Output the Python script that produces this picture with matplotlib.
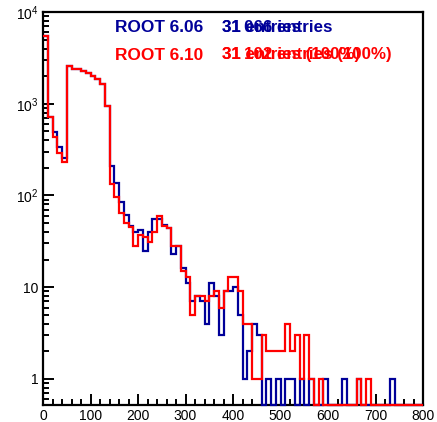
import numpy as np
import matplotlib
matplotlib.use("Agg")
import matplotlib.pyplot as plt

# ---- data ----
bin_edges = np.arange(0, 810, 10)
root606 = [5470, 717, 490, 340, 255, 2580, 2420, 2400, 2300, 2150,
           2000, 1850, 1650, 950, 210, 138, 84, 62, 46, 40,
           42, 25, 40, 55, 55, 48, 44, 23, 28, 16,
           11, 7, 8, 7, 4, 11, 8, 3, 9, 9,
           10, 5, 1, 2, 4, 3, 0, 1, 0, 1,
           0, 1, 1, 0, 1, 0, 1, 0, 0, 1,
           0, 0, 0, 1, 0, 0, 1, 0, 0, 0,
           0, 0, 0, 1, 0, 0, 0, 0, 0, 0]
root610 = [5470, 717, 430, 290, 232, 2580, 2400, 2390, 2300, 2150,
           2000, 1850, 1650, 950, 132, 97, 65, 50, 45, 28,
           37, 35, 31, 40, 60, 47, 44, 28, 28, 15,
           13, 5, 8, 8, 7, 8, 9, 6, 9, 13,
           13, 9, 4, 4, 1, 1, 3, 2, 2, 2,
           2, 4, 2, 3, 1, 3, 1, 0, 1, 0,
           0, 0, 0, 0, 0, 0, 1, 0, 1, 0,
           0, 0, 0, 0, 0, 0, 0, 0, 0, 0]
labels = ["ROOT 6.06", "ROOT 6.10"]
entries_short = ["31 entries", "31 entries (100%)"]
entries_long = ["31\u2009066 entries", "31\u2009102 entries (100%)"]
xticks = [0, 100, 200, 300, 400, 500, 600, 700, 800]
yticks = [1, 10, 100, 1000, 10000]
ytick_labels = ["1", "10", r"$\mathregular{10^{2}}$", r"$\mathregular{10^{3}}$", r"$\mathregular{10^{4}}$"]

plt.rcParams['font.family'] = ['Liberation Sans', 'DejaVu Sans']
plt.rcParams['mathtext.fontset'] = 'custom'
plt.rcParams['mathtext.rm'] = 'Liberation Sans'

W, H = 437, 422
fig = plt.figure(figsize=(W / 100, H / 100), dpi=100)
ax = fig.add_axes([43 / W, 1 - 405 / H, 380 / W, 393 / H])

ymin, ymax = 0.52, 10000
colors = ["#000099", "#ff0000"]
for vals, c in zip([root606, root610], colors):
    v = np.asarray(vals, dtype=float)
    v = np.where(v > 0, v, ymin)
    ax.stairs(v, bin_edges, baseline=None, color=c, lw=1.6, zorder=3, clip_on=False)

ax.set_yscale('log')
ax.set_xlim(0, 800)
ax.set_ylim(ymin, ymax)
ax.set_xticks(xticks)
ax.set_xticklabels([str(t) for t in xticks])
ax.set_xticks(np.arange(0, 801, 20), minor=True)
ax.set_yticks(yticks)
ax.set_yticklabels(ytick_labels)
ax.yaxis.set_minor_locator(matplotlib.ticker.LogLocator(base=10, subs=np.arange(2, 10), numticks=20))
ax.yaxis.set_minor_formatter(matplotlib.ticker.NullFormatter())
ax.tick_params(axis='both', which='major', direction='in', length=8, width=1.4, labelsize=10, pad=3)
ax.tick_params(axis='both', which='minor', direction='in', length=4, width=1.4)
ax.tick_params(axis='x', which='both', top=False)
ax.tick_params(axis='y', which='both', right=False)
for s in ax.spines.values():
    s.set_linewidth(1.6)

# legend-like text
for i, (lab, c) in enumerate(zip(labels, colors)):
    y = 28 if i == 0 else 55
    fig.text(115 / W, 1 - y / H, lab, color=c, fontsize=12.4, fontweight='bold', va='center', ha='left')
    fig.text(222 / W, 1 - y / H, entries_long[i], color=c, fontsize=12.2, fontweight='bold', va='center', ha='left')
    fig.text(222 / W, 1 - y / H, entries_short[i], color=c, fontsize=12.2, fontweight='bold', va='center', ha='left')

fig.savefig("out.png", dpi=100)
